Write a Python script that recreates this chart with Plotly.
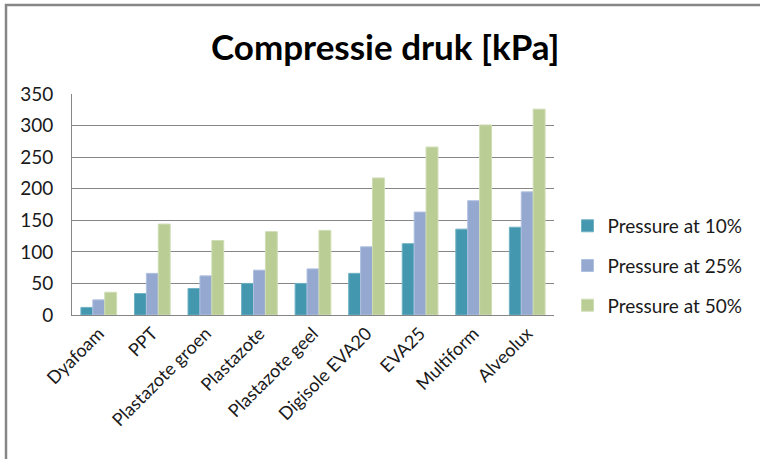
import plotly.graph_objects as go

categories = ["Dyafoam", "PPT", "Plastazote groen", "Plastazote", "Plastazote geel",
              "Digisole EVA20", "EVA25", "Multiform", "Alveolux"]
p10 = [12, 34, 42, 50, 50, 66, 113, 136, 139]
p25 = [24, 66, 62, 71, 73, 108, 163, 181, 195]
p50 = [36, 144, 118, 132, 134, 217, 266, 301, 326]
series_names = ["Pressure at 10%", "Pressure at 25%", "Pressure at 50%"]
colors = ["#4397AE", "#94A8D0", "#BACD95"]
edge = ["#6FB2C4", "#B0C0E0", "#CFDDB5"]
y_ticks = [0, 50, 100, 150, 200, 250, 300, 350]

fig = go.Figure()
for i, (name, vals, c, e) in enumerate(zip(series_names, [p10, p25, p50], colors, edge)):
    fig.add_trace(go.Bar(x=categories, y=vals, name=name, legendgroup=f"g{i}",
                         marker=dict(color=c, line=dict(color=e, width=1))))

font = "Lato, 'Open Sans', sans-serif"
fig.update_layout(
    width=760, height=459,
    margin=dict(l=72, r=200, t=94, b=144),
    paper_bgcolor="white", plot_bgcolor="white",
    barmode="group", bargap=0.333, bargroupgap=0,
    title=dict(text="<b>Compressie druk [kPa]</b>", x=0.507, xanchor="center",
               xref="container", y=1 - 48 / 459, yanchor="middle",
               font=dict(family=font, size=35, color="black")),
    font=dict(family=font, size=19, color="#1a1a1a"),
    legend=dict(x=1.028, xanchor="left", xref="paper", y=0.222, yanchor="middle",
                font=dict(size=19, color="#1a1a1a"), itemwidth=30,
                tracegroupgap=12, bgcolor="rgba(0,0,0,0)"),
    showlegend=True,
    xaxis=dict(tickangle=-45, showline=True, linecolor="#868686", linewidth=1,
               ticks="", tickfont=dict(size=18, color="#1a1a1a")),
    yaxis=dict(range=[0, 350], tickvals=y_ticks, showgrid=True, gridcolor="#868686",
               gridwidth=1, showline=True, linecolor="#868686", linewidth=1,
               ticks="", ticklabelstandoff=14, tickfont=dict(size=19, color="#1a1a1a"),
               zeroline=False),
    shapes=[dict(type="rect", xref="paper", yref="paper", xsizemode="pixel",
                 ysizemode="pixel", xanchor=0, yanchor=0,
                 x0=6 - 72, x1=900, y0=-300, y1=315 - 5,
                 line=dict(color="#868686", width=2.5), fillcolor="rgba(0,0,0,0)",
                 layer="below")],
)
fig.write_html("out.html")
